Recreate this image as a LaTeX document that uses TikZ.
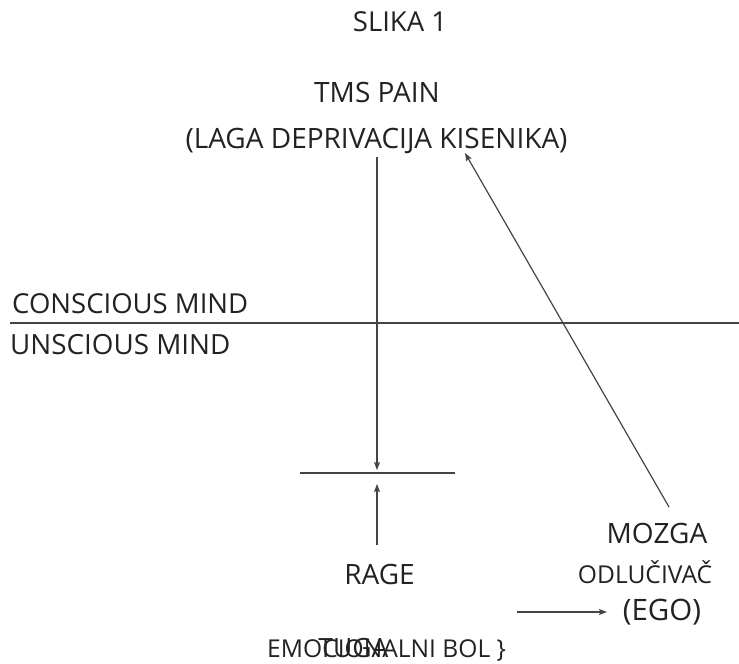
\documentclass[tikz,border=0pt]{standalone}
\usepackage{fontspec}
\setmainfont{Open Sans}
\usetikzlibrary{arrows.meta}
\definecolor{ink}{HTML}{222222}
\definecolor{lineink}{HTML}{444444}
\begin{document}
\begin{tikzpicture}[x=1pt,y=-1pt,
  lbl/.style={inner sep=0pt,text=ink,font=\fontsize{28}{32}\selectfont},
  small/.style={inner sep=0pt,text=ink,font=\fontsize{24.6}{28}\selectfont},
  ln/.style={draw=lineink,line width=1.2pt},
  arr/.style={ln,-{Stealth[length=8pt,width=6pt,inset=1.5pt]}}]
\useasboundingbox (0,0) rectangle (739,664);
\node[lbl,font=\fontsize{27.5}{32}\selectfont] (title) at (400,22) {SLIKA 1};
\node[lbl] (tms) at (377,92) {TMS PAIN};
\node[lbl] (laga) at (376.5,141) {(LAGA DEPRIVACIJA KISENIKA)};
\node[lbl,anchor=west,font=\fontsize{27.5}{32}\selectfont] (cm) at (12,303.5) {CONSCIOUS MIND};
\node[lbl,anchor=west,font=\fontsize{27.8}{32}\selectfont] (um) at (10,345) {UNSCIOUS MIND};
\coordinate (l1) at (10,323);
\coordinate (l2) at (739,323);
\draw[ln] (l1) -- (l2);
\coordinate (s1) at (300,473);
\coordinate (s2) at (455,473);
\draw[ln] (s1) -- (s2);
\coordinate (vtop) at (377,157);
\coordinate (vbot) at (377,470);
\draw[arr] (vtop) -- (vbot);
\coordinate (rtop) at (377,545);
\coordinate (rup) at (377,484);
\draw[arr] (rtop) -- (rup);
\node[lbl] (rage) at (379.5,574) {RAGE};
\node[lbl] (mozga) at (657,533) {MOZGA};
\node[small] (odl) at (645,572) {ODLUČIVAČ};
\node[lbl,font=\fontsize{29.5}{34}\selectfont] (ego) at (662,612) {(EGO)};
\coordinate (dstart) at (669,507);
\coordinate (dend) at (465,153);
\draw[arr] (dstart) -- (dend);
\coordinate (e1) at (517,612);
\coordinate (e2) at (607,612);
\draw[arr] (e1) -- (e2);
\node[small,anchor=west] (emo) at (267,651) {EMOCIONALNI BOL \}};
\node[lbl,font=\fontsize{26.5}{30}\selectfont] (tuga) at (353.5,648) {TUGA};
\end{tikzpicture}
\end{document}
